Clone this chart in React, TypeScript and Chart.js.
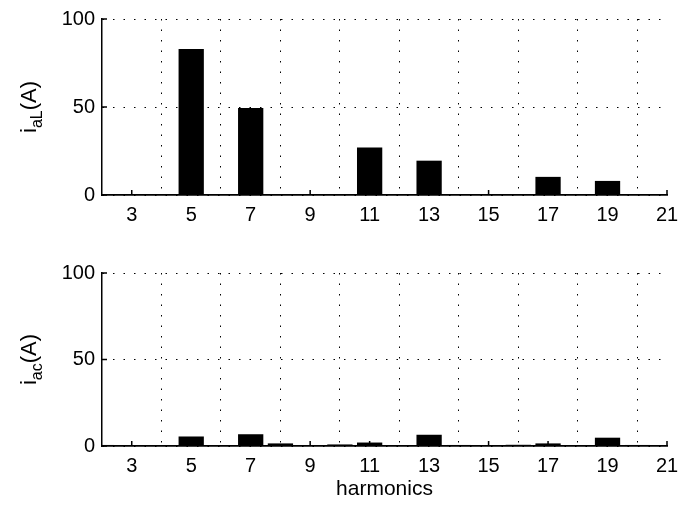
import React, { useEffect, useRef } from "react";
import { Chart, registerables } from "chart.js";

Chart.register(...registerables);

// ---- data ----
const harmonics = [2, 3, 4, 5, 6, 7, 8, 9, 10, 11, 12, 13, 14, 15, 16, 17, 18, 19, 20];
const loadCurrent = [0, 0, 0, 83, 0, 49.5, 0, 0, 0, 27, 0, 19.5, 0, 0, 0, 10.3, 0, 8, 0];
const sourceCurrent = [0.6, 0, 0.4, 5.5, 0, 6.8, 1.5, 0, 0.9, 2, 0, 6.5, 0.6, 0, 0.7, 1.5, 0, 4.8, 0.6];
const xTickValues = [3, 5, 7, 9, 11, 13, 15, 17, 19, 21];
const yTickValues = [0, 50, 100];
const topYLabel = ["i", "aL", "(A)"];
const bottomYLabel = ["i", "ac", "(A)"];
const xAxisTitle = "harmonics";

const FONT = "'Liberation Sans', Arial, Helvetica, sans-serif";

const decorPlugin = {
  id: "decor",
  afterDatasetsDraw(chart: any, _args: any, opts: any) {
    const { ctx, chartArea } = chart;
    const xs = chart.scales.x;
    const ys = chart.scales.y;
    ctx.save();
    // inward tick marks (MATLAB style)
    ctx.strokeStyle = "#000";
    ctx.lineWidth = 1.5;
    ctx.beginPath();
    for (const v of xTickValues) {
      const px = xs.getPixelForValue(v);
      ctx.moveTo(px, chartArea.bottom);
      ctx.lineTo(px, chartArea.bottom - 5);
    }
    for (const v of yTickValues) {
      const py = ys.getPixelForValue(v);
      ctx.moveTo(chartArea.left, py);
      ctx.lineTo(chartArea.left + 5, py);
    }
    ctx.stroke();

    // y title with subscript
    const [main, sub, tail] = opts.yLabel as string[];
    const bigFont = `22px ${FONT}`;
    const smallFont = `16px ${FONT}`;
    ctx.font = bigFont;
    const wMain = ctx.measureText(main).width;
    const wTail = ctx.measureText(tail).width;
    ctx.font = smallFont;
    const wSub = ctx.measureText(sub).width;
    const total = wMain + wSub + wTail;
    const cy = (chartArea.top + chartArea.bottom) / 2;
    ctx.translate(opts.yTitleX, cy);
    ctx.rotate(-Math.PI / 2);
    ctx.fillStyle = "#000";
    ctx.textBaseline = "alphabetic";
    ctx.textAlign = "left";
    let x0 = -total / 2;
    ctx.font = bigFont;
    ctx.fillText(main, x0, 0);
    x0 += wMain;
    ctx.font = smallFont;
    ctx.fillText(sub, x0, 6);
    x0 += wSub;
    ctx.font = bigFont;
    ctx.fillText(tail, x0, 0);
    ctx.restore();

    if (opts.xTitle) {
      ctx.save();
      ctx.font = `21px ${FONT}`;
      ctx.fillStyle = "#000";
      ctx.textAlign = "center";
      ctx.textBaseline = "middle";
      ctx.fillText(opts.xTitle, (chartArea.left + chartArea.right) / 2, chartArea.bottom + opts.xTitleOffset);
      ctx.restore();
    }
  },
};

function makeConfig(values: number[], yLabel: string[], padTop: number, xHeight: number, xTitle: string | null) {
  return {
    type: "bar" as const,
    data: {
      datasets: [
        {
          data: harmonics.map((h, i) => ({ x: h, y: values[i] })),
          backgroundColor: "#000",
          borderColor: "#000",
          borderWidth: 0,
          barPercentage: 0.85,
          categoryPercentage: 1,
        },
      ],
    },
    plugins: [decorPlugin],
    options: {
      animation: false,
      responsive: false,
      maintainAspectRatio: false,
      devicePixelRatio: 1,
      events: [],
      layout: { autoPadding: false, padding: { top: padTop, right: 23, left: 0, bottom: 0 } },
      plugins: {
        legend: { display: false },
        tooltip: { enabled: false },
        decor: { yLabel, yTitleX: 36, xTitle, xTitleOffset: 43 },
      },
      scales: {
        x: {
          type: "linear",
          min: 2,
          max: 21,
          offset: false,
          afterBuildTicks: (s: any) => {
            s.ticks = xTickValues.map((v) => ({ value: v }));
          },
          afterFit: (s: any) => {
            s.height = xHeight;
          },
          grid: { color: "#000", lineWidth: 1, drawTicks: false },
          border: { display: true, color: "#000", width: 1.8, dash: [1.5, 9] },
          ticks: { color: "#000", font: { family: FONT, size: 20 }, padding: 8, maxRotation: 0, autoSkip: false },
        },
        y: {
          min: 0,
          max: 100,
          afterBuildTicks: (s: any) => {
            s.ticks = yTickValues.map((v) => ({ value: v }));
          },
          afterFit: (s: any) => {
            s.width = 102;
          },
          grid: { color: "#000", lineWidth: 1, drawTicks: false },
          border: { display: true, color: "#000", width: 1.5, dash: [1.5, 9] },
          ticks: { color: "#000", font: { family: FONT, size: 20 }, padding: 7 },
        },
      },
    },
  };
}

function Panel(props: { values: number[]; yLabel: string[]; top: number; padTop: number; xHeight: number; xTitle: string | null }) {
  const ref = useRef<HTMLCanvasElement | null>(null);
  useEffect(() => {
    if (!ref.current) return;
    const chart = new Chart(ref.current, makeConfig(props.values, props.yLabel, props.padTop, props.xHeight, props.xTitle) as any);
    return () => chart.destroy();
  }, []);
  return (
    <canvas
      ref={ref}
      width={690}
      height={254}
      style={{ position: "absolute", left: 0, top: props.top, width: 690, height: 254 }}
    />
  );
}

export default function App() {
  return (
    <div style={{ position: "fixed", left: 0, top: 0, width: 690, height: 508, background: "#fff" }}>
      <Panel values={loadCurrent} yLabel={topYLabel} top={0} padTop={16} xHeight={59} xTitle={null} />
      <Panel values={sourceCurrent} yLabel={bottomYLabel} top={254} padTop={13} xHeight={62} xTitle={xAxisTitle} />
    </div>
  );
}
